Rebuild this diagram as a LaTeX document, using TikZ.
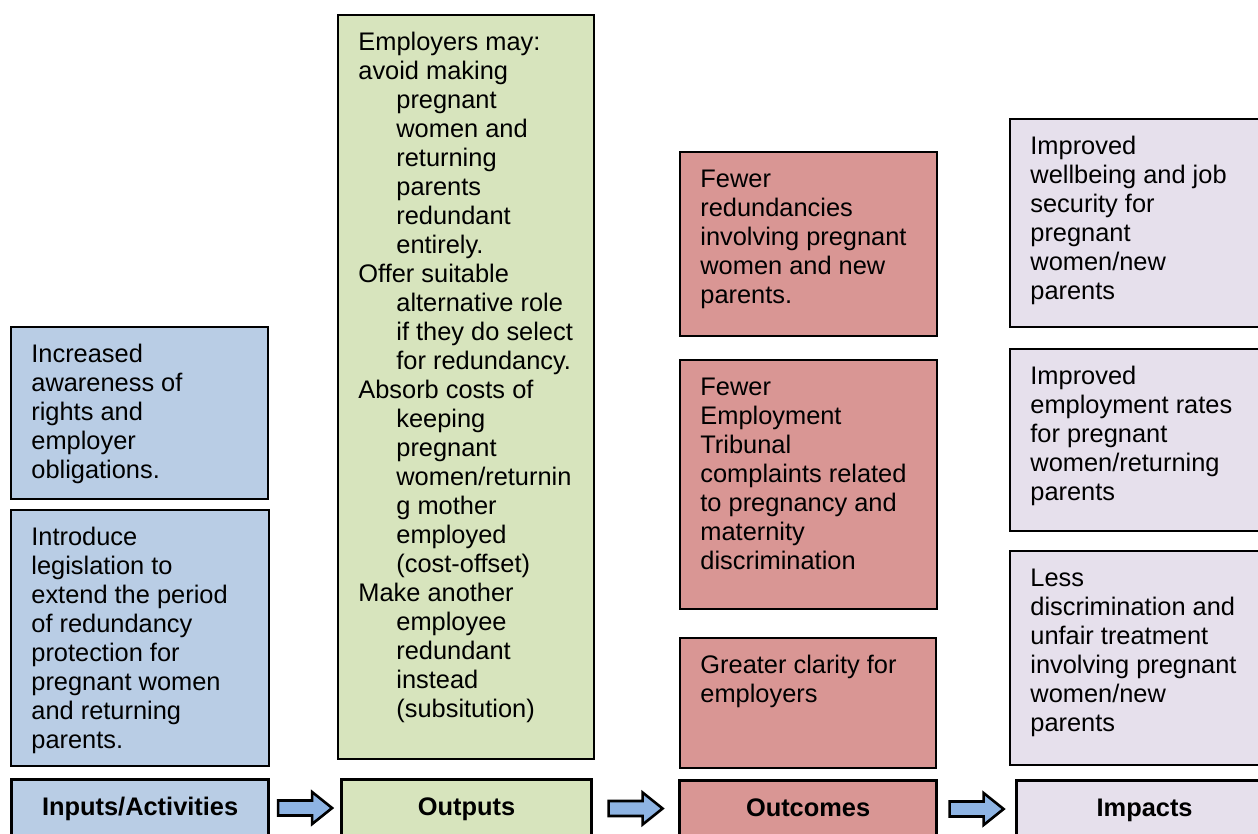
\documentclass[tikz,border=0pt]{standalone}
\usepackage{fontspec}
\setmainfont{Liberation Sans}
\usetikzlibrary{calc}

\definecolor{inblue}{HTML}{B9CDE5}
\definecolor{outgreen}{HTML}{D7E4BD}
\definecolor{outcred}{HTML}{D99694}
\definecolor{implav}{HTML}{E6E0EC}
\definecolor{arrowblue}{HTML}{8EB4E3}

\tikzset{
  box/.style={draw=black,line width=0.8pt,rectangle,inner sep=0pt,anchor=north west},
  boxtext/.style={anchor=north west,inner sep=0pt,align=left,font=\fontsize{12.7}{14.5}\selectfont},
  headbox/.style={draw=black,line width=1.6pt,rectangle,inner sep=0pt,anchor=north west,
    text height=18pt,text depth=23pt,font=\fontsize{12.7}{14.5}\selectfont\bfseries},
  blockarrow/.pic={\draw[line width=1.3pt,fill=arrowblue,line join=miter]
    (-27,-7.5) -- (7,-7.5) -- (7,-16) -- (27,0) -- (7,16) -- (7,7.5) -- (-27,7.5) -- cycle;}
}

\begin{document}
\begin{tikzpicture}[x=0.5pt,y=-0.5pt]
\clip (0,0) rectangle (1258,834);

% inputs/activities:
\node[box,fill=inblue,minimum width=128.5pt,minimum height=86pt] (aware) at (10,326) {};
\node[boxtext] (awaretxt) at ($(aware.north west)+(21,15.7)$)
  {\strut Increased\\awareness of\\rights and\\employer\\obligations.};
\node[box,fill=inblue,minimum width=129pt,minimum height=128pt] (legis) at (10,509) {};
\node[boxtext] (legistxt) at ($(legis.north west)+(21,15.7)$)
  {\strut Introduce\\legislation to\\extend the period\\of redundancy\\protection for\\pregnant women\\and returning\\parents.};
\node[headbox,fill=inblue,minimum width=128.5pt] (inlbl) at (10,778) {Inputs/Activities};

% outputs:
\node[box,fill=outgreen,minimum width=128pt,minimum height=372pt] (employ) at (337,14) {};
\node[boxtext] (employtxt) at ($(employ.north west)+(21,15.7)$)
  {\strut Employers may:\\
   avoid making\\
   \hspace*{19pt}pregnant\\
   \hspace*{19pt}women and\\
   \hspace*{19pt}returning\\
   \hspace*{19pt}parents\\
   \hspace*{19pt}redundant\\
   \hspace*{19pt}entirely.\\
   Offer suitable\\
   \hspace*{19pt}alternative role\\
   \hspace*{19pt}if they do select\\
   \hspace*{19pt}for redundancy.\\
   Absorb costs of\\
   \hspace*{19pt}keeping\\
   \hspace*{19pt}pregnant\\
   \hspace*{19pt}women/returnin\\
   \hspace*{19pt}g mother\\
   \hspace*{19pt}employed\\
   \hspace*{19pt}(cost-offset)\\
   Make another\\
   \hspace*{19pt}employee\\
   \hspace*{19pt}redundant\\
   \hspace*{19pt}instead\\
   \hspace*{19pt}(subsitution)};
\node[headbox,fill=outgreen,minimum width=125pt] (outlbl) at (340,778) {Outputs};

% outcomes:
\node[box,fill=outcred,minimum width=128.5pt,minimum height=92pt] (fewred) at (679,151) {};
\node[boxtext] (fewredtxt) at ($(fewred.north west)+(21,15.7)$)
  {\strut Fewer\\redundancies\\involving pregnant\\women and new\\parents.};
\node[box,fill=outcred,minimum width=128.5pt,minimum height=124.5pt] (fewtrib) at (679,359) {};
\node[boxtext] (fewtribtxt) at ($(fewtrib.north west)+(21,15.7)$)
  {\strut Fewer\\Employment\\Tribunal\\complaints related\\to pregnancy and\\maternity\\discrimination};
\node[box,fill=outcred,minimum width=128pt,minimum height=65pt] (clarity) at (679,637) {};
\node[boxtext] (claritytxt) at ($(clarity.north west)+(21,15.7)$)
  {\strut Greater clarity for\\employers};
\node[headbox,fill=outcred,minimum width=128.5pt] (outclbl) at (678,779) {Outcomes};

% impacts:
\node[box,fill=implav,minimum width=131pt,minimum height=104pt] (wellb) at (1009,118) {};
\node[boxtext] (wellbtxt) at ($(wellb.north west)+(21,15.7)$)
  {\strut Improved\\wellbeing and job\\security for\\pregnant\\women/new\\parents};
\node[box,fill=implav,minimum width=131pt,minimum height=91pt] (emprate) at (1009,348) {};
\node[boxtext] (empratetxt) at ($(emprate.north west)+(21,15.7)$)
  {\strut Improved\\employment rates\\for pregnant\\women/returning\\parents};
\node[box,fill=implav,minimum width=131pt,minimum height=107pt] (lessdis) at (1009,550) {};
\node[boxtext] (lessdistxt) at ($(lessdis.north west)+(21,15.7)$)
  {\strut Less\\discrimination and\\unfair treatment\\involving pregnant\\women/new\\parents};
\node[headbox,fill=implav,minimum width=128pt] (implbl) at (1015,779) {Impacts};

% block arrows between the headings:
\coordinate (arrin) at ($(inlbl.north east)!0.5!(outlbl.north west)+(0,30)$);
\coordinate (arrout) at ($(outlbl.north east)!0.5!(outclbl.north west)+(0,30)$);
\coordinate (arroutc) at ($(outclbl.north east)!0.5!(implbl.north west)+(0,30)$);
\pic at (arrin) {blockarrow};
\pic at (arrout) {blockarrow};
\pic at (arroutc) {blockarrow};

\end{tikzpicture}
\end{document}
